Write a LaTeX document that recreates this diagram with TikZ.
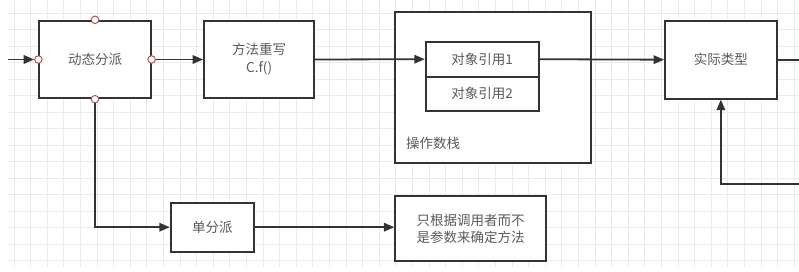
\documentclass[tikz,border=0pt]{standalone}
\usepackage{fontspec}
\newfontfamily\cjk{Noto Sans CJK SC}
\usetikzlibrary{arrows.meta}
\definecolor{gridc}{HTML}{EBEBEB}
\definecolor{linec}{HTML}{333333}
\definecolor{textc}{HTML}{5A5A5A}
\definecolor{portc}{HTML}{B85450}
\tikzset{
  box/.style={draw=linec, line width=1.8pt, fill=white, inner sep=0pt, font=\cjk\fontsize{13.5}{16}\selectfont, text=textc, align=center},
  conn/.style={draw=linec, line width=1.8pt},
  arr/.style={conn, -{Triangle[length=10.5pt,width=8.5pt]}},
  port/.style={circle, draw=portc, fill=white, line width=1pt, inner sep=0pt, minimum size=7.5pt},
}
\begin{document}
\begin{tikzpicture}[x=1pt,y=-1pt]
\useasboundingbox (0,0) rectangle (799,272);
% grid
\foreach \i in {0,...,47} \draw[gridc, line width=1pt] ({14+16.6*\i},0) -- ({14+16.6*\i},267);
\foreach \j in {0,...,15} \draw[gridc, line width=1pt] (8,{13.3+16.5*\j}) -- (799,{13.3+16.5*\j});
% nodes
\node[box, minimum width=111.4pt, minimum height=77.6pt] (dyn) at (95,59.5) {动态分派};
\node[box, minimum width=110.3pt, minimum height=77.6pt] (meth) at (259.15,59.5) {方法重写\\[2pt]C.f()};
\node[box, minimum width=195.4pt, minimum height=151pt] (stack) at (493,87.8) {};
\node[box, minimum width=113pt, minimum height=35pt] (ref1) at (482.2,59.2) {对象引用1};
\node[box, minimum width=113pt, minimum height=34pt] (ref2) at (482.2,93.7) {对象引用2};
\node[font=\cjk\fontsize{13.5}{16}\selectfont, text=textc, anchor=west, inner sep=0pt] (stlabel) at (406,143) {操作数栈};
\node[box, minimum width=111.7pt, minimum height=78pt] (real) at (720.85,59.7) {实际类型};
\node[box, minimum width=83.3pt, minimum height=49pt] (single) at (212.35,227.2) {单分派};
\node[box, minimum width=150.7pt, minimum height=65.3pt] (only) at (470.65,228.5) {只根据调用者而不\\[1pt]是参数来确定方法};
% ports
\node[port] (pL) at (dyn.west) {};
\node[port] (pR) at (dyn.east) {};
\node[port] (pT) at (dyn.north) {};
\node[port] (pB) at (dyn.south) {};
% free ends
\coordinate (inL) at (8,59.5);
\coordinate (outR) at (799,59.7);
\coordinate (inB) at (799,184);
\coordinate (bend1) at (pB |- single.west);
\coordinate (bend2) at (real.south |- inB);
% connectors
\draw[arr] (inL) -- (pL.west);
\draw[arr] (pR.east) -- (meth.west);
\draw[arr] (meth.east) -- (ref1.west);
\draw[arr] (ref1.east) -- (real.west);
\draw[conn] (real.east) -- (outR);
\draw[arr] (inB) -- (bend2) -- (real.south);
\draw[arr] (pB.south) -- (bend1) -- (single.west);
\draw[arr] (single.east) -- (only.west |- single.east);
\end{tikzpicture}
\end{document}
